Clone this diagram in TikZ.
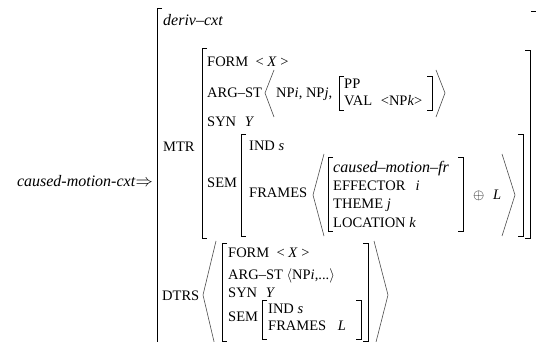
\documentclass[tikz,border=0pt]{standalone}
\usepackage{amsmath, amssymb}
\usepackage{fontspec}
\setmainfont{Liberation Serif}
\usetikzlibrary{arrows}

\begin{document}
\begin{tikzpicture}[x = 1pt, y = -1pt, font=\fontsize{14.5}{17}\selectfont]
	\tikzstyle{attrStyle} = [anchor = base west, inner sep = 0pt]
	\tikzstyle{typeStyle} = [attrStyle, font = \fontsize{16}{19}\selectfont\itshape]
	\tikzstyle{squareStyle} = [line width = 0.9pt, black]
	\tikzstyle{angleStyle} = [line width = 0.6pt, black!70]
	\useasboundingbox (0,0) rectangle (536,342);
	\node[attrStyle, anchor = base east, font = \fontsize{16}{19}\selectfont] (cmc) at (153,187) {\textit{caused-motion-cxt}$\Rightarrow$};
	\node[typeStyle] (deriv) at (163,26) {deriv--cxt};
	\node[attrStyle] (mtr) at (163,152) {MTR};
	\node[attrStyle] (form1) at (207,67) {FORM\hspace{0.5em}< \textit{X} >};
	\node[attrStyle] (arg1) at (207,98) {ARG--ST};
	\node[attrStyle] (nps) at (276,98) {NP\textit{i}, NP\textit{j},};
	\node[attrStyle] (pp) at (344,89) {PP};
	\node[attrStyle] (val) at (344,106) {VAL\hspace{0.6em}<NP\textit{k}>};
	\node[attrStyle] (syn1) at (207,127) {SYN\hspace{0.6em}\textit{Y}};
	\node[attrStyle] (sem1) at (207,188) {SEM};
	\node[attrStyle] (ind1) at (249,151) {IND \textit{s}};
	\node[attrStyle] (frames1) at (249,198) {FRAMES};
	\node[typeStyle] (cmf) at (333,173) {caused--motion--fr};
	\node[attrStyle] (eff) at (333,191) {EFFECTOR\hspace{0.7em}\textit{i}};
	\node[attrStyle] (theme) at (333,209) {THEME \textit{j}};
	\node[attrStyle] (loc) at (333,227) {LOCATION \textit{k}};
	\node[attrStyle] (plus) at (473,200) {$\oplus$\hspace{0.6em}\textit{L}};
	\node[attrStyle] (dtrs) at (162,300) {DTRS};
	\node[attrStyle] (form2) at (228,258) {FORM\hspace{0.5em}< \textit{X} >};
	\node[attrStyle] (arg2) at (228,279) {ARG--ST $\langle$NP\textit{i},...$\rangle$};
	\node[attrStyle] (syn2) at (228,297) {SYN\hspace{0.6em}\textit{Y}};
	\node[attrStyle] (sem2) at (228,321) {SEM};
	\node[attrStyle] (ind2) at (268,313) {IND \textit{s}};
	\node[attrStyle] (frames2) at (268,330) {FRAMES\hspace{0.8em}\textit{L}};
	\draw[squareStyle] (162,8) -- (157,8) -- (157,345);
	\draw[squareStyle] (531,11) -- (536,11);
	\draw[squareStyle] (207,48) -- (202,48) -- (202,238) -- (207,238);
	\draw[squareStyle] (525,50) -- (530,50) -- (530,238) -- (525,238);
	\draw[squareStyle] (344,76) -- (339,76) -- (339,110) -- (344,110);
	\draw[squareStyle] (427,76) -- (432,76) -- (432,110) -- (427,110);
	\draw[angleStyle] (274,70) -- (265,93) -- (274,117);
	\draw[angleStyle] (436,70) -- (445,93) -- (436,117);
	\draw[squareStyle] (246,134) -- (241,134) -- (241,236) -- (246,236);
	\draw[squareStyle] (518,134) -- (523,134) -- (523,236) -- (518,236);
	\draw[angleStyle] (324,154) -- (313,195) -- (324,236);
	\draw[angleStyle] (502,154) -- (515,195) -- (502,236);
	\draw[squareStyle] (333,157) -- (328,157) -- (328,231) -- (333,231);
	\draw[squareStyle] (458,157) -- (463,157) -- (463,231) -- (458,231);
	\draw[angleStyle] (216,241) -- (203,295) -- (216,350);
	\draw[angleStyle] (374,241) -- (388,295) -- (374,350);
	\draw[squareStyle] (227,243) -- (222,243) -- (222,341) -- (227,341);
	\draw[squareStyle] (363,243) -- (368,243) -- (368,341) -- (363,341);
	\draw[squareStyle] (267,300) -- (262,300) -- (262,339) -- (267,339);
	\draw[squareStyle] (356,300) -- (361,300) -- (361,339) -- (356,339);
\end{tikzpicture}
\end{document}
